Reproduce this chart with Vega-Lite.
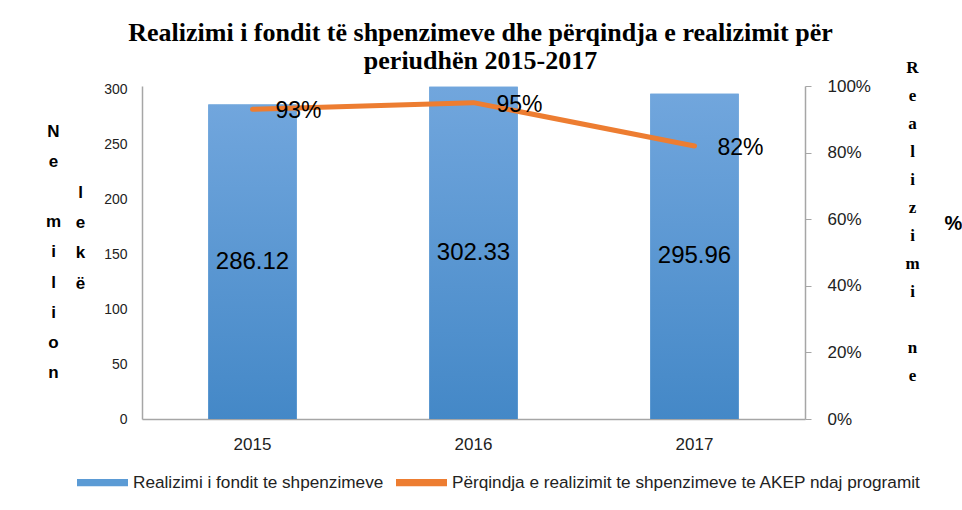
{
  "$schema": "https://vega.github.io/schema/vega-lite/v6.json",
  "width": 663,
  "height": 333,
  "autosize": "none",
  "padding": {"left": 142, "top": 86, "right": 157, "bottom": 91},
  "background": "white",
  "config": {
    "view": {"stroke": null},
    "font": "Liberation Sans"
  },
  "title": {
    "text": ["Realizimi i fondit të shpenzimeve dhe përqindja e realizimit për", "periudhën 2015-2017"],
    "font": "Liberation Serif",
    "fontSize": 26,
    "fontWeight": "bold",
    "color": "#000000",
    "anchor": "middle",
    "frame": "group",
    "lineHeight": 28,
    "dx": 7,
    "offset": -16
  },
  "data": {
    "values": [
      {"year": "2015", "fund": 286.12, "pct": 0.93},
      {"year": "2016", "fund": 302.33, "pct": 0.95},
      {"year": "2017", "fund": 295.96, "pct": 0.82}
    ]
  },
  "encoding": {
    "x": {
      "field": "year",
      "type": "ordinal",
      "scale": {"paddingInner": 0.6, "paddingOuter": 0.3},
      "axis": {
        "title": null,
        "labelAngle": 0,
        "labelFontSize": 17,
        "labelColor": "#222222",
        "labelPadding": 17,
        "ticks": false,
        "domainColor": "#a6a6a6",
        "domainWidth": 1.5
      }
    }
  },
  "layer": [
    {
      "mark": {"type": "bar"},
      "encoding": {
        "y": {
          "field": "fund",
          "type": "quantitative",
          "scale": {"domain": [0, 303], "nice": false},
          "axis": {
            "orient": "left",
            "values": [0, 50, 100, 150, 200, 250, 300],
            "grid": false,
            "ticks": false,
            "tickSize": 0,
            "labelPadding": 15,
            "labelFontSize": 14,
            "labelColor": "#222222",
            "domainColor": "#a6a6a6",
            "domainWidth": 1.5,
            "title": ["l", "e", "k", "ë"],
            "titleAngle": 0,
            "titleAlign": "center",
            "titleBaseline": "alphabetic",
            "titleX": -62,
            "titleY": 111,
            "titleLineHeight": 30.4,
            "titleFont": "Liberation Sans",
            "titleFontSize": 17,
            "titleFontWeight": "bold",
            "titleColor": "#000000"
          }
        },
        "color": {
          "datum": "Realizimi i fondit te shpenzimeve",
          "type": "nominal",
          "scale": {
            "domain": ["Realizimi i fondit te shpenzimeve", "Përqindja e realizimit te shpenzimeve te AKEP ndaj programit"],
            "range": ["#5b9bd5", "#ed7d31"]
          },
          "legend": {
            "orient": "none",
            "legendX": -65,
            "legendY": 371,
            "direction": "horizontal",
            "title": null,
            "symbolType": "M-1,-0.14H1V0.14H-1Z",
            "symbolSize": 2601,
            "symbolStrokeWidth": 0,
            "labelFontSize": 17.2,
            "labelColor": "#222222",
            "labelOffset": 5,
            "columnPadding": 12,
            "labelLimit": 600
          }
        }
      }
    },
    {
      "mark": {
        "type": "bar",
        "color": {
          "gradient": "linear",
          "x1": 0, "y1": 0, "x2": 0, "y2": 1,
          "stops": [
            {"offset": 0, "color": "#71a6dd"},
            {"offset": 1, "color": "#4488c7"}
          ]
        }
      },
      "encoding": {
        "y": {
          "field": "fund",
          "type": "quantitative",
          "scale": {"domain": [0, 303], "nice": false},
          "axis": null
        }
      }
    },
    {
      "mark": {"type": "text", "fontSize": 24, "color": "#000000", "baseline": "middle", "align": "center"},
      "encoding": {
        "y": {
          "field": "fund",
          "type": "quantitative",
          "scale": {"domain": [0, 606], "nice": false},
          "axis": {
            "orient": "right",
            "labels": false,
            "ticks": false,
            "domain": false,
            "grid": false,
            "title": "%",
            "titleAngle": 0,
            "titleAlign": "center",
            "titleBaseline": "alphabetic",
            "titleX": 148,
            "titleY": 143,
            "titleFont": "Liberation Sans",
            "titleFontSize": 20,
            "titleFontWeight": "bold",
            "titleColor": "#000000"
          }
        },
        "text": {"field": "fund", "type": "quantitative", "format": ".2f"}
      }
    },
    {
      "mark": {"type": "line", "strokeWidth": 5, "strokeCap": "round", "strokeJoin": "round"},
      "encoding": {
        "y": {
          "field": "pct",
          "type": "quantitative",
          "scale": {"domain": [0, 1], "nice": false},
          "axis": {
            "orient": "right",
            "values": [0, 0.2, 0.4, 0.6, 0.8, 1],
            "format": ".0%",
            "grid": false,
            "ticks": true,
            "tickSize": 6,
            "tickColor": "#a6a6a6",
            "labelPadding": 16,
            "labelFontSize": 17,
            "labelColor": "#222222",
            "domainColor": "#a6a6a6",
            "domainWidth": 1.5,
            "title": ["R", "e", "a", "l", "i", "z", "i", "m", "i", "\u200b", "n", "e"],
            "titleAngle": 0,
            "titleAlign": "center",
            "titleBaseline": "alphabetic",
            "titleX": 107,
            "titleY": -14,
            "titleLineHeight": 28,
            "titleFont": "Liberation Serif",
            "titleFontSize": 17,
            "titleFontWeight": "bold",
            "titleColor": "#000000"
          }
        },
        "color": {"datum": "Përqindja e realizimit te shpenzimeve te AKEP ndaj programit", "type": "nominal"}
      }
    },
    {
      "mark": {"type": "text", "fontSize": 23, "color": "#000000", "baseline": "middle", "align": "left", "dx": 23, "dy": 2},
      "encoding": {
        "y": {
          "field": "pct",
          "type": "quantitative",
          "scale": {"domain": [0, 1], "nice": false},
          "axis": {
            "orient": "left",
            "labels": false,
            "ticks": false,
            "domain": false,
            "grid": false,
            "title": ["N", "e", "\u200b", "m", "i", "l", "i", "o", "n"],
            "titleAngle": 0,
            "titleAlign": "center",
            "titleBaseline": "alphabetic",
            "titleX": -89,
            "titleY": 50,
            "titleLineHeight": 30.2,
            "titleFont": "Liberation Sans",
            "titleFontSize": 17,
            "titleFontWeight": "bold",
            "titleColor": "#000000"
          }
        },
        "text": {"field": "pct", "type": "quantitative", "format": ".0%"}
      }
    }
  ],
  "resolve": {"scale": {"y": "independent"}, "axis": {"y": "independent"}}
}
